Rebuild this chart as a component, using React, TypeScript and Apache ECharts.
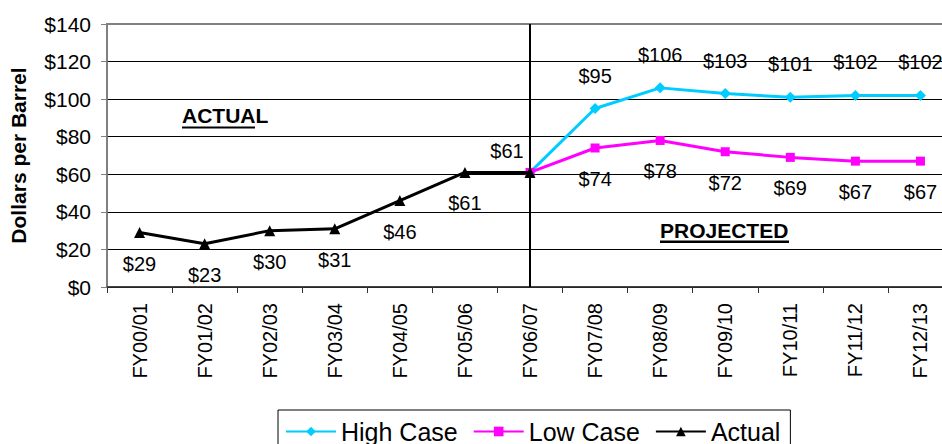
import React, { useEffect, useRef } from 'react';
import * as echarts from 'echarts';

const categories = ['FY00/01', 'FY01/02', 'FY02/03', 'FY03/04', 'FY04/05', 'FY05/06', 'FY06/07', 'FY07/08', 'FY08/09', 'FY09/10', 'FY10/11', 'FY11/12', 'FY12/13'];
const actualValues: (number | string)[] = [29, 23, 30, 31, 46, 61, 61, '-', '-', '-', '-', '-', '-'];
const highValues: (number | string)[] = ['-', '-', '-', '-', '-', '-', 61, 95, 106, 103, 101, 102, 102];
const lowValues: (number | string)[] = ['-', '-', '-', '-', '-', '-', 61, 74, 78, 72, 69, 67, 67];
const yTicks = { min: 0, max: 140, interval: 20 };
const splitColors = ['#000', '#000', '#000', '#000', '#000', '#000', '#000', '#808080'];

const FONT = '"Liberation Sans", Arial, sans-serif';
const HIGH = '#00CCFF';
const LOW = '#FF00FF';
const BLACK = '#000000';

export default function App() {
  const ref = useRef<HTMLDivElement>(null);
  useEffect(() => {
    const chart = echarts.init(ref.current!, null, { renderer: 'svg' });
    const fmt = (p: any) => '$' + p.value;
    const option: any = {
      animation: false,
      backgroundColor: '#fff',
      textStyle: { fontFamily: FONT },
      grid: {
        left: 107, right: -11, top: 24, bottom: 157,
        outerBoundsMode: 'none',
        containLabel: false,
        show: true, borderColor: '#808080', borderWidth: 2, backgroundColor: 'transparent',
      },
      legend: {
        left: 278, top: 410,
        padding: [9, 10, 9, 7],
        borderColor: '#000', borderWidth: 1,
        itemWidth: 50, itemHeight: 12, itemGap: 15,
        textStyle: { fontSize: 25, color: '#000', fontFamily: FONT },
        data: ['High Case', 'Low Case', 'Actual'],
      },
      xAxis: {
        type: 'category',
        data: categories,
        boundaryGap: true,
        axisLine: { lineStyle: { color: '#333', width: 1.5 } },
        axisTick: { show: true, length: 6, lineStyle: { color: '#333' } },
        axisLabel: { rotate: 90, fontSize: 20, color: '#000', margin: 16, padding: [8, 0, 0, 0], fontFamily: FONT },
        splitLine: { show: false },
      },
      yAxis: {
        type: 'value',
        min: yTicks.min, max: yTicks.max, interval: yTicks.interval,
        name: 'Dollars per Barrel',
        nameLocation: 'middle',
        nameGap: 78,
        nameMoveOverlap: false,
        nameTextStyle: { fontSize: 21, fontWeight: 'bold', color: '#000', fontFamily: FONT },
        axisLine: { show: true, lineStyle: { color: '#808080', width: 1.5 } },
        axisTick: { show: true, length: 6, lineStyle: { color: '#808080' } },
        axisLabel: { formatter: '${value}', fontSize: 21, color: '#000', margin: 16, fontFamily: FONT },
        splitLine: { show: true, lineStyle: { color: splitColors, width: 1 } },
      },
      series: [
        {
          name: 'High Case', type: 'line',
          data: highValues.map((v, i) => (i === 6 ? { value: v, label: { show: false } } : v)),
          symbol: 'diamond', symbolSize: 11,
          lineStyle: { color: HIGH, width: 3 },
          itemStyle: { color: HIGH },
          label: { show: true, position: 'inside', offset: [0, -33], formatter: fmt, fontSize: 20, color: '#000', fontFamily: FONT },
          z: 2,
        },
        {
          name: 'Low Case', type: 'line',
          data: lowValues.map((v, i) => (i === 6 ? { value: v, label: { show: false } } : v)),
          symbol: 'rect', symbolSize: 9,
          lineStyle: { color: LOW, width: 3 },
          itemStyle: { color: LOW },
          label: { show: true, position: 'inside', offset: [0, 31], formatter: fmt, fontSize: 20, color: '#000', fontFamily: FONT },
          z: 3,
        },
        {
          name: 'Actual', type: 'line',
          data: actualValues.map((v, i) => (i === 6 ? { value: v, label: { offset: [-23, -21] } } : v)),
          symbol: 'triangle', symbolSize: 11,
          lineStyle: { color: BLACK, width: 3 },
          itemStyle: { color: BLACK },
          label: { show: true, position: 'inside', offset: [0, 31], formatter: fmt, fontSize: 20, color: '#000', fontFamily: FONT },
          markLine: {
            silent: true, symbol: ['none', 'none'],
            label: { show: false },
            lineStyle: { color: '#000', width: 2, type: 'solid' },
            data: [{ xAxis: 'FY06/07' }],
          },
          z: 4,
        },
      ],
      graphic: [
        { type: 'text', x: 182, y: 115, style: { text: 'ACTUAL', fontSize: 21, fontWeight: 'bold', fontFamily: FONT, fill: '#000', verticalAlign: 'middle' } },
        { type: 'rect', shape: { x: 182, y: 126.5, width: 73, height: 2 }, style: { fill: '#000' } },
        { type: 'text', x: 660, y: 230.5, style: { text: 'PROJECTED', fontSize: 21, fontWeight: 'bold', fontFamily: FONT, fill: '#000', verticalAlign: 'middle' } },
        { type: 'rect', shape: { x: 660, y: 240.5, width: 129, height: 2.5 }, style: { fill: '#000' } },
      ],
    };
    chart.setOption(option);
    return () => chart.dispose();
  }, []);
  return <div ref={ref} style={{ position: 'fixed', left: 0, top: 0, width: 942, height: 444, background: '#fff' }} />;
}
